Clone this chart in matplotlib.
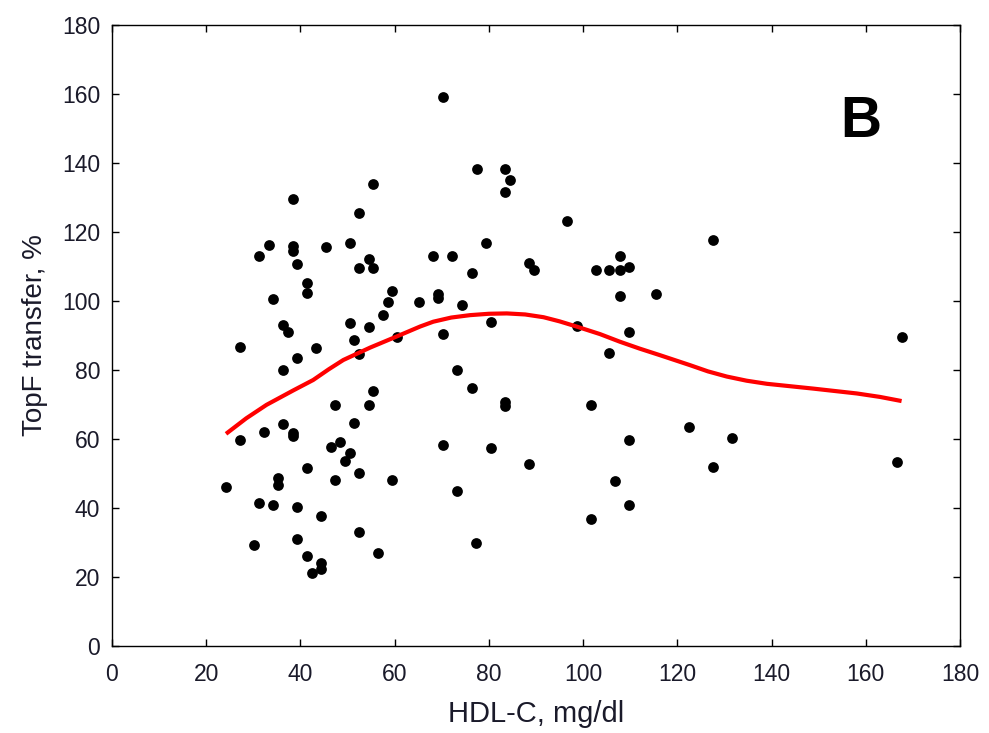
import matplotlib
matplotlib.use('Agg')
import matplotlib.pyplot as plt

# HDL-C (mg/dl) and TopF transfer (%)
hdl = [55.5, 38.4, 52.5, 33.3, 31.3, 38.4, 38.4, 45.4, 50.5, 54.5,
       52.5, 55.5, 39.3, 41.3, 41.3, 34.2, 59.5, 58.5, 65.2, 57.5,
       50.5, 54.5, 36.2, 37.3, 60.6, 51.4, 27.2, 43.4, 39.3, 52.5,
       36.3, 55.5, 47.4, 54.5, 51.4, 36.3, 32.3, 27.2, 38.4, 38.4,
       46.4, 48.5, 50.5, 49.4, 41.3, 35.2, 35.2, 47.4, 52.5, 59.5,
       24.2, 31.2, 34.2, 39.3, 44.4, 52.5, 30.2, 39.3, 56.5, 41.3,
       44.4, 44.4, 42.4, 70.3, 77.4, 83.5, 84.5, 83.5, 96.6, 79.4,
       68.2, 72.2, 88.5, 89.5, 76.4, 102.7, 105.6, 107.8, 107.8, 69.3,
       69.3, 74.3, 107.8, 80.4, 70.3, 98.6, 105.6, 73.3, 76.4, 83.4,
       83.4, 101.6, 70.3, 80.4, 88.5, 73.3, 101.6, 106.7, 77.3, 127.6,
       109.8, 115.5, 109.8, 167.6, 122.5, 131.6, 109.7, 127.6, 166.6, 109.7]
topf = [133.8, 129.6, 125.5, 116.3, 113.0, 115.9, 114.6, 115.7, 116.7, 112.3,
        109.5, 109.5, 110.7, 105.3, 102.4, 100.7, 103.0, 99.7, 99.7, 96.0,
        93.7, 92.4, 93.0, 90.9, 89.5, 88.6, 86.8, 86.4, 83.6, 84.6,
        80.0, 73.9, 69.9, 69.9, 64.7, 64.3, 62.0, 59.7, 61.8, 60.9,
        57.8, 59.2, 56.0, 53.7, 51.5, 48.6, 46.7, 48.2, 50.1, 48.2,
        46.0, 41.4, 40.8, 40.4, 37.7, 33.0, 29.3, 31.1, 27.0, 26.1,
        24.1, 22.2, 21.1, 159.1, 138.3, 138.3, 135.2, 131.5, 123.3, 116.7,
        113.1, 113.1, 110.9, 108.9, 108.0, 108.9, 108.9, 109.0, 113.0, 101.9,
        100.8, 98.8, 101.5, 93.8, 90.5, 92.8, 85.0, 80.0, 74.9, 70.8,
        69.6, 69.8, 58.3, 57.4, 52.8, 45.0, 36.7, 47.7, 29.9, 117.6,
        109.9, 102.0, 91.0, 89.7, 63.4, 60.2, 59.7, 51.9, 53.2, 40.8]

# smoothed fit line
fit_x = [24.2, 28.5, 32.8, 38.5, 42.7, 46.0, 49.1, 54.8, 60.4, 65.4, 68.2, 72.0,
         76.0, 80.0, 83.8, 87.7, 91.6, 95.0, 98.6, 103.6, 107.8, 112.0, 116.3,
         122.7, 126.5, 130.5, 134.7, 139.0, 148.9, 158.1, 163.0, 167.6]
fit_y = [61.5, 66.0, 69.9, 74.1, 77.1, 80.2, 82.9, 86.5, 89.7, 92.6, 94.0, 95.2,
         95.9, 96.3, 96.4, 96.1, 95.3, 94.1, 92.6, 90.4, 88.2, 86.2, 84.3,
         81.4, 79.6, 78.1, 76.9, 76.0, 74.6, 73.2, 72.2, 71.0]

fig = plt.figure(figsize=(9.89, 7.33), dpi=100)
ax = fig.add_axes([112 / 989, 1 - 646 / 733, 848 / 989, 621 / 733])

ax.scatter(hdl, topf, s=60, color='black', zorder=3, linewidths=0)
ax.plot(fit_x, fit_y, color='#ff0000', linewidth=3, zorder=4,
        solid_joinstyle='round', solid_capstyle='butt')

ax.set_xlim(0, 180)
ax.set_ylim(0, 180)
ax.set_xticks(range(0, 181, 20))
ax.set_yticks(range(0, 181, 20))
ax.tick_params(direction='in', top=True, right=True, length=5, width=1,
               labelsize=16.5, labelcolor='#1a1a2a')
ax.tick_params(axis='x', pad=12)
ax.tick_params(axis='y', pad=8.5)
for lbl in ax.get_xticklabels() + ax.get_yticklabels():
    lbl.set_family('Liberation Sans')
for sp in ax.spines.values():
    sp.set_linewidth(1)

ax.set_xlabel('HDL-C, mg/dl', fontsize=21, family='Liberation Sans', color='#1a1a2a', labelpad=10)
ax.set_ylabel('TopF transfer, %', fontsize=20, family='Liberation Sans', color='#1a1a2a', labelpad=10)

ax.text(159.0, 147.5, 'B', fontsize=41, fontweight='bold', family='Liberation Sans',
        ha='center', va='baseline')

fig.savefig('out.png', dpi=100)
